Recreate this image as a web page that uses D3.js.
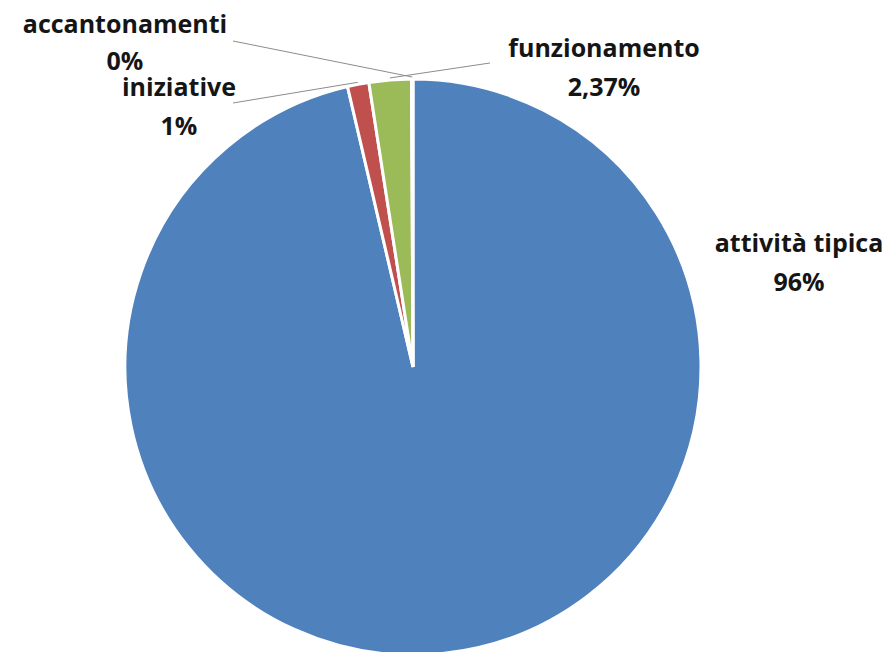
<!DOCTYPE html>
<html>
<head>
<meta charset="utf-8">
<script src="https://cdn.jsdelivr.net/npm/d3@7"></script>
<style>
  body { margin: 0; background: #fff; }
  svg { display: block; }
  .lbl { font-family: "Open Sans", sans-serif; font-weight: bold; font-size: 25px; fill: #151515; }
</style>
</head>
<body>
<div id="chart"></div>
<script>
// data
const categories = ["attività tipica", "iniziative", "funzionamento", "accantonamenti"];
const values = [96.35, 1.2, 2.37, 0.08];
const valueLabels = ["96%", "1%", "2,37%", "0%"];
const colors = ["#4F81BD", "#C0504D", "#9BBB59", "#8064A2"];

// label layout: [x center, baseline of first line, leader start x, leader start y]
const labelPos = [
  [799, 252, null, null],
  [179, 96, 233, 103],
  [604, 57, 490, 63],
  [125, 33, 233, 41]
];

const w = 894, h = 652;
const cx = 413, cy = 367, r = 288;

const svg = d3.select("#chart").append("svg")
  .attr("width", w)
  .attr("height", h);

const pie = d3.pie().sort(null).value(d => d.value);
const arc = d3.arc().innerRadius(0).outerRadius(r);
const outer = d3.arc().innerRadius(r + 2).outerRadius(r + 2);

const rows = categories.map((c, i) => ({ name: c, value: values[i], pct: valueLabels[i], color: colors[i] }));
const arcs = pie(rows);

const g = svg.append("g").attr("transform", "translate(" + cx + "," + cy + ")");

g.selectAll("path.slice")
  .data(arcs)
  .enter().append("path")
  .attr("class", "slice")
  .attr("d", arc)
  .attr("fill", d => d.data.color)
  .attr("stroke", "#fff")
  .attr("stroke-width", 3);

// leader lines
arcs.forEach((d, i) => {
  const p = labelPos[i];
  if (p[2] === null) return;
  const c = outer.centroid(d);
  svg.append("line")
    .attr("x1", p[2]).attr("y1", p[3])
    .attr("x2", cx + c[0]).attr("y2", cy + c[1])
    .attr("stroke", "#8c8c8c")
    .attr("stroke-width", 1);
});

// labels
arcs.forEach((d, i) => {
  const p = labelPos[i];
  const t = svg.append("text")
    .attr("class", "lbl")
    .attr("text-anchor", "middle");
  t.append("tspan").attr("x", p[0]).attr("y", p[1]).text(d.data.name);
  t.append("tspan").attr("x", p[0]).attr("y", p[1] + (i === 3 ? 37 : 39)).text(d.data.pct);
});
</script>
</body>
</html>
